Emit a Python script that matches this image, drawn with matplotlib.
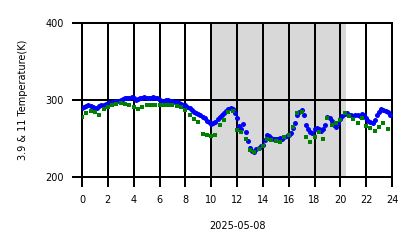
import numpy as np
import matplotlib
matplotlib.use("Agg")
import matplotlib.pyplot as plt

# 10-minute blue series (3.9 um), hours from 0
blue_vals = [
    289, 291, 292, 293, 292, 291, 289, 290, 292, 293, 294, 295,
    296, 296, 297, 298, 299, 299, 300, 301, 302, 303, 303, 304,
    302, 300, 301, 302, 303, 304, 303, 302, 303, 304, 303, 302,
    300, 298, 299, 300, 300, 299, 299, 298, 297, 296, 295, 294,
    293, 291, 289, 287, 285, 283, 282, 280, 278, 276, 273, 271,
    269, 270, 272, 275, 278, 281, 283, 286, 288, 289, 288, 283,
    276, 266, 262, 269, 258, 247, 238, 234, 233, 236, 238, 240,
    242, 248, 255, 253, 251, 250, 249, 250, 251, 250, 252, 253,
    254, 257, 263, 270, 280, 285, 287, 280, 268, 262, 259, 257,
    262, 264, 262, 260, 262, 268, 278, 276, 273, 268, 265, 270,
    275, 279, 282, 283, 281, 280, 279, 280, 281, 279, 282, 281,
    276, 273, 271, 270, 274, 280, 285, 288, 287, 286, 284, 281,
]
blue_hours = np.arange(len(blue_vals)) / 6.0

# 20-minute green series (11 um)
green_vals = [
    278, 283, 286, 284, 281, 288, 291, 293, 295, 296, 295, 294,
    291, 288, 291, 293, 293, 294, 294, 293, 294, 294, 292, 291,
    287, 280, 275, 272, 256, 255, 253, 254, 268, 274, 284, 286,
    261, 258, 250, 235, 232, 236, 240, 250, 248, 247, 246, 252,
    255, 265, 283, 284, 252, 246, 252, 258, 249, 277, 268, 270,
    274, 283, 279, 275, 270, 276, 266, 263, 260, 265, 270, 262,
]
green_hours = np.arange(len(green_vals)) / 3.0

night_start, night_end = 10.0, 20.45
xticks = list(range(0, 25, 2))
yticks = [200, 300, 400]
ylabel = "3.9 & 11 Temperature(K)"
xlabel = "2025-05-08"

fig = plt.figure(figsize=(4.18, 2.48), dpi=100)
ax = fig.add_axes([82/418, 1-177/248, 310/418, 154/248])
ax.axvspan(night_start, night_end, color="gray", alpha=0.3, lw=0)
ax.plot(blue_hours, blue_vals, "o", color="#0000ff", ms=3.6, mew=0)
ax.plot(green_hours, green_vals, "s", color="#008000", ms=3.2, mew=0)

ax.set_xlim(0, 24)
ax.set_ylim(200, 400)
ax.set_xticks(xticks)
ax.set_yticks(yticks)
for s in ax.spines.values():
    s.set_visible(False)
ax.grid(True, color="black", lw=1.44)
for gl in ax.get_xgridlines() + ax.get_ygridlines():
    gl.set_clip_on(False)
ax.tick_params(length=7.2, width=1.44, labelsize=7, pad=6)
ax.set_ylabel(ylabel, fontsize=7, labelpad=12)
ax.set_xlabel(xlabel, fontsize=7, labelpad=11)
fig.savefig("out.png", dpi=100)
